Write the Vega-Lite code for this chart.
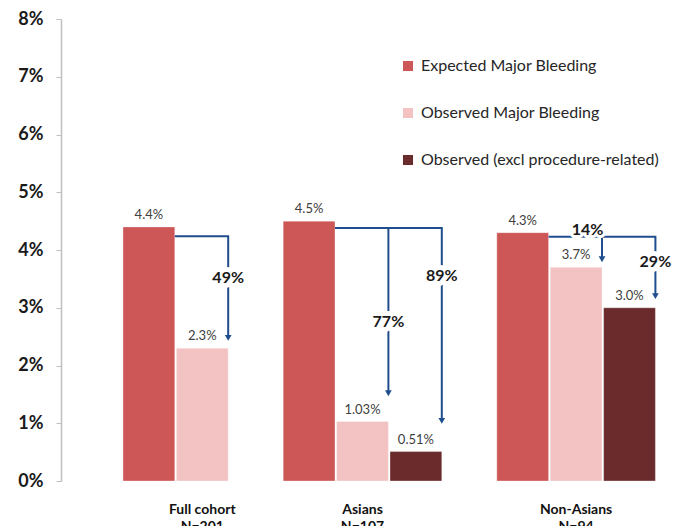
{
  "$schema": "https://vega.github.io/schema/vega-lite/v6.json",
  "width": 631,
  "height": 462,
  "autosize": "none",
  "padding": {"left": 61, "top": 19, "right": 0, "bottom": 45},
  "background": "#ffffff",
  "config": {
    "view": {"stroke": null},
    "font": "Lato"
  },
  "datasets": {
    "bars": [
      {"bar": "Full cohort|N=201|E", "series": "Expected Major Bleeding", "value": 0.044, "label": "4.4%"},
      {"bar": "Full cohort|N=201|O", "series": "Observed Major Bleeding", "value": 0.023, "label": "2.3%"},
      {"bar": "Asians|N=107|E", "series": "Expected Major Bleeding", "value": 0.045, "label": "4.5%"},
      {"bar": "Asians|N=107|O", "series": "Observed Major Bleeding", "value": 0.0103, "label": "1.03%"},
      {"bar": "Asians|N=107|X", "series": "Observed  (excl procedure-related)", "value": 0.0051, "label": "0.51%"},
      {"bar": "Non-Asians|N=94|E", "series": "Expected Major Bleeding", "value": 0.043, "label": "4.3%"},
      {"bar": "Non-Asians|N=94|O", "series": "Observed Major Bleeding", "value": 0.037, "label": "3.7%"},
      {"bar": "Non-Asians|N=94|X", "series": "Observed  (excl procedure-related)", "value": 0.030, "label": "3.0%"}
    ],
    "arrows": [
      {"seg": "full", "k": 0, "bar": "Full cohort|N=201|E", "v": 0.0424},
      {"seg": "full", "k": 1, "bar": "Full cohort|N=201|O", "v": 0.0424},
      {"seg": "full", "k": 2, "bar": "Full cohort|N=201|O", "v": 0.0250},
      {"seg": "asia89", "k": 0, "bar": "Asians|N=107|E", "v": 0.0438},
      {"seg": "asia89", "k": 1, "bar": "Asians|N=107|X", "v": 0.0438},
      {"seg": "asia89", "k": 2, "bar": "Asians|N=107|X", "v": 0.0106},
      {"seg": "asia77", "k": 0, "bar": "Asians|N=107|O", "v": 0.0438},
      {"seg": "asia77", "k": 1, "bar": "Asians|N=107|O", "v": 0.0154},
      {"seg": "non29", "k": 0, "bar": "Non-Asians|N=94|E", "v": 0.0423},
      {"seg": "non29", "k": 1, "bar": "Non-Asians|N=94|X", "v": 0.0423},
      {"seg": "non29", "k": 2, "bar": "Non-Asians|N=94|X", "v": 0.0322},
      {"seg": "non14", "k": 0, "bar": "Non-Asians|N=94|O", "v": 0.0423},
      {"seg": "non14", "k": 1, "bar": "Non-Asians|N=94|O", "v": 0.0386}
    ],
    "tips": [
      {"bar": "Full cohort|N=201|O", "v": 0.0248},
      {"bar": "Asians|N=107|X", "v": 0.0104},
      {"bar": "Asians|N=107|O", "v": 0.0152},
      {"bar": "Non-Asians|N=94|X", "v": 0.0320},
      {"bar": "Non-Asians|N=94|O", "v": 0.0384}
    ],
    "notes": [
      {"bar": "Full cohort|N=201|O", "v": 0.0352, "text": "49%"},
      {"bar": "Asians|N=107|O", "v": 0.0275, "text": "77%"},
      {"bar": "Asians|N=107|X", "v": 0.0355, "text": "89%"},
      {"bar": "Non-Asians|N=94|X", "v": 0.0379, "text": "29%"}
    ],
    "notes2": [
      {"bar": "Non-Asians|N=94|O", "v": 0.0435, "text": "14%"}
    ]
  },
  "layer": [
    {
      "data": {"name": "bars"},
      "mark": {"type": "bar", "stroke": "#ffffff", "strokeOpacity": 0.35, "strokeWidth": 1},
      "encoding": {
        "x": {
          "field": "bar", "type": "nominal", "sort": null,
          "scale": {
            "domain": ["gap0", "Full cohort|N=201|E", "Full cohort|N=201|O", "Full cohort|N=201|X", "Asians|N=107|E", "Asians|N=107|O", "Asians|N=107|X", "gap1", "Non-Asians|N=94|E", "Non-Asians|N=94|O", "Non-Asians|N=94|X"],
            "paddingInner": 0.03, "paddingOuter": 0.423, "align": 0.19
          },
          "axis": {
            "title": null, "domain": false, "ticks": false, "labelAngle": 0,
            "labelOverlap": false, "labelBound": false,
            "labelExpr": "indexof(datum.value, '|O') > 0 ? slice(split(datum.value, '|'), 0, 2) : ''",
            "labelFont": "Lato", "labelFontSize": 14, "labelFontWeight": "bold",
            "labelColor": "#111111", "labelPadding": 21, "labelLineHeight": 17, "labelBaseline": "top"
          }
        },
        "y": {
          "field": "value", "type": "quantitative",
          "scale": {"domain": [0, 0.08], "nice": false},
          "axis": {
            "title": null, "grid": false, "values": [0, 0.01, 0.02, 0.03, 0.04, 0.05, 0.06, 0.07, 0.08],
            "format": ".0%", "labelFont": "Lato", "labelFontSize": 18, "labelFontWeight": "bold",
            "labelColor": "#1a1a1a", "labelPadding": 13, "tickSize": 5, "tickColor": "#bfbfbf",
            "domainColor": "#bfbfbf", "domainWidth": 1.5
          }
        },
        "color": {
          "field": "series", "type": "nominal",
          "scale": {
            "domain": ["Expected Major Bleeding", "Observed Major Bleeding", "Observed  (excl procedure-related)"],
            "range": ["#CD5656", "#F3C2C2", "#6B2A2B"]
          },
          "legend": {
            "title": null, "orient": "none", "legendX": 339, "legendY": 39,
            "symbolType": "square", "symbolSize": 100, "symbolStrokeWidth": 0,
            "labelFont": "Lato", "labelFontSize": 16, "labelColor": "#262626",
            "labelOffset": 5, "rowPadding": 31, "labelLimit": 400
          }
        }
      }
    },
    {
      "data": {"name": "bars"},
      "mark": {"type": "text", "baseline": "alphabetic", "dy": -8, "fontSize": 13, "font": "Lato", "color": "#404040"},
      "encoding": {
        "x": {"field": "bar", "type": "nominal", "sort": null},
        "y": {"field": "value", "type": "quantitative"},
        "text": {"field": "label"}
      }
    },
    {
      "data": {"name": "arrows"},
      "mark": {"type": "line", "color": "#1F4E8F", "strokeWidth": 2},
      "encoding": {
        "x": {"field": "bar", "type": "nominal", "sort": null, "bandPosition": 1},
        "y": {"field": "v", "type": "quantitative"},
        "detail": {"field": "seg"},
        "order": {"field": "k"}
      }
    },
    {
      "data": {"name": "tips"},
      "mark": {"type": "point", "shape": "triangle-down", "filled": true, "size": 45, "color": "#1F4E8F", "opacity": 1},
      "encoding": {
        "x": {"field": "bar", "type": "nominal", "sort": null, "bandPosition": 1},
        "y": {"field": "v", "type": "quantitative"}
      }
    },
    {
      "data": {"name": "notes"},
      "mark": {"type": "text", "fontSize": 16, "fontWeight": "bold", "font": "Lato", "baseline": "middle", "fill": "#ffffff", "stroke": "#ffffff", "strokeWidth": 10, "strokeJoin": "round"},
      "encoding": {
        "x": {"field": "bar", "type": "nominal", "sort": null, "bandPosition": 1},
        "y": {"field": "v", "type": "quantitative"},
        "text": {"field": "text"}
      }
    },
    {
      "data": {"name": "notes"},
      "mark": {"type": "text", "fontSize": 16, "fontWeight": "bold", "font": "Lato", "baseline": "middle", "color": "#1a1a1a"},
      "encoding": {
        "x": {"field": "bar", "type": "nominal", "sort": null, "bandPosition": 1},
        "y": {"field": "v", "type": "quantitative"},
        "text": {"field": "text"}
      }
    },
    {
      "data": {"name": "notes2"},
      "mark": {"type": "text", "fontSize": 16, "fontWeight": "bold", "font": "Lato", "baseline": "middle", "fill": "#ffffff", "stroke": "#ffffff", "strokeWidth": 6, "strokeJoin": "round"},
      "encoding": {
        "x": {"field": "bar", "type": "nominal", "sort": null, "bandPosition": 0.72},
        "y": {"field": "v", "type": "quantitative"},
        "text": {"field": "text"}
      }
    },
    {
      "data": {"name": "notes2"},
      "mark": {"type": "text", "fontSize": 16, "fontWeight": "bold", "font": "Lato", "baseline": "middle", "color": "#1a1a1a"},
      "encoding": {
        "x": {"field": "bar", "type": "nominal", "sort": null, "bandPosition": 0.72},
        "y": {"field": "v", "type": "quantitative"},
        "text": {"field": "text"}
      }
    }
  ]
}
